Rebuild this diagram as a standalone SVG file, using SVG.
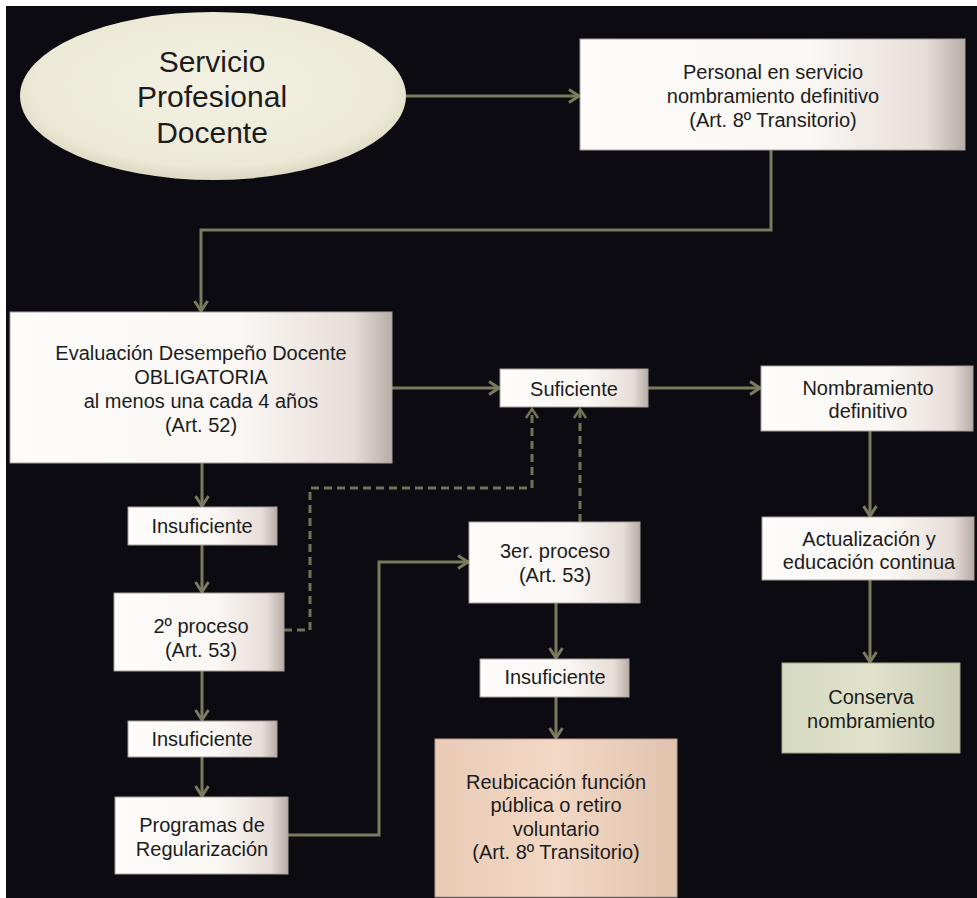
<svg xmlns="http://www.w3.org/2000/svg" width="977" height="898" viewBox="0 0 977 898">
<defs>
<linearGradient id="gW" x1="0" y1="0" x2="1" y2="0">
<stop offset="0" stop-color="#fdfcfb"/>
<stop offset="0.6" stop-color="#faf7f4"/>
<stop offset="0.9" stop-color="#e7ddd8"/>
<stop offset="1" stop-color="#b8ada7"/>
</linearGradient>
<linearGradient id="gP" x1="0" y1="0" x2="1" y2="0">
<stop offset="0" stop-color="#e9cbb6"/>
<stop offset="0.5" stop-color="#f2d8c5"/>
<stop offset="1" stop-color="#e1c3ae"/>
</linearGradient>
<linearGradient id="gG" x1="0" y1="0" x2="1" y2="0">
<stop offset="0" stop-color="#d6d9c1"/>
<stop offset="0.5" stop-color="#e0e2cc"/>
<stop offset="1" stop-color="#c8cbb2"/>
</linearGradient>
<radialGradient id="gE" cx="0.5" cy="0.45" r="0.55">
<stop offset="0" stop-color="#f3f1e3"/>
<stop offset="0.85" stop-color="#ece9d6"/>
<stop offset="1" stop-color="#dcd8c2"/>
</radialGradient>
<marker id="arr" markerUnits="userSpaceOnUse" markerWidth="16" markerHeight="16" refX="12" refY="8" orient="auto">
<path d="M2,1.5 L12,8 L2,14.5" fill="none" stroke="#7a7a5c" stroke-width="3"/>
</marker>
<marker id="arrD" markerUnits="userSpaceOnUse" markerWidth="16" markerHeight="16" refX="12" refY="8" orient="auto">
<path d="M3,2 L12,8 L3,14" fill="none" stroke="#6f7456" stroke-width="2.5"/>
</marker>
</defs>
<style>
.box{fill:url(#gW);stroke:#a9a09a;stroke-width:1}
.peach{fill:url(#gP);stroke:#b9a08e;stroke-width:1}
.green{fill:url(#gG);stroke:#a2a58c;stroke-width:1}
.t{font-family:"Liberation Sans",Arial,sans-serif;font-size:20px;fill:#1c1c1c;text-anchor:middle}
.tb{font-size:30px}
.c{fill:none;stroke:#7a7a5c;stroke-width:3;marker-end:url(#arr)}
.cn{fill:none;stroke:#7a7a5c;stroke-width:3}
.d{fill:none;stroke:#6f7456;stroke-width:3;stroke-dasharray:8 5;marker-end:url(#arrD)}
</style>
<rect x="0" y="0" width="977" height="898" fill="#ffffff"/>
<rect x="6" y="6" width="971" height="892" fill="#0b0b11"/>

<g id="connectors">
<path class="c" d="M406,96 H579"/>
<path class="c" d="M771,150 V230 H201 V311"/>
<path class="c" d="M392,388 H499"/>
<path class="c" d="M648,388 H760"/>
<path class="c" d="M870,431 V516"/>
<path class="c" d="M870,580 V662"/>
<path class="c" d="M202,463 V506"/>
<path class="c" d="M202,545 V592"/>
<path class="c" d="M202,671 V720"/>
<path class="c" d="M202,757 V796"/>
<path class="c" d="M288,835 H379 V562 H468"/>
<path class="c" d="M556,603 V658"/>
<path class="c" d="M556,697 V738"/>
<path class="d" d="M284,630 H310 V488 H532 V409"/>
<path class="d" d="M580,522 V409"/>
</g>

<g id="servicio">
<ellipse cx="213" cy="96" rx="193" ry="84" fill="url(#gE)"/>
<text class="t tb" x="212" y="72">Servicio</text>
<text class="t tb" x="212" y="107">Profesional</text>
<text class="t tb" x="212" y="143">Docente</text>
</g>

<g id="personal">
<rect class="box" x="580" y="39" width="385" height="111"/>
<text class="t" x="773" y="79">Personal en servicio</text>
<text class="t" x="773" y="103">nombramiento definitivo</text>
<text class="t" x="773" y="127">(Art. 8º Transitorio)</text>
</g>

<g id="evaluacion">
<rect class="box" x="10" y="312" width="382" height="151"/>
<text class="t" x="201" y="360">Evaluación Desempeño Docente</text>
<text class="t" x="201" y="384">OBLIGATORIA</text>
<text class="t" x="201" y="408">al menos una cada 4 años</text>
<text class="t" x="201" y="432">(Art. 52)</text>
</g>

<g id="suficiente">
<rect class="box" x="500" y="369" width="148" height="38"/>
<text class="t" x="574" y="396">Suficiente</text>
</g>

<g id="nombramiento">
<rect class="box" x="761" y="366" width="212" height="65"/>
<text class="t" x="868" y="395">Nombramiento</text>
<text class="t" x="868" y="418">definitivo</text>
</g>

<g id="actualizacion">
<rect class="box" x="762" y="517" width="212" height="63"/>
<text class="t" x="869" y="546">Actualización y</text>
<text class="t" x="869" y="569">educación continua</text>
</g>

<g id="conserva">
<rect class="green" x="782" y="663" width="178" height="90"/>
<text class="t" x="871" y="704">Conserva</text>
<text class="t" x="871" y="728">nombramiento</text>
</g>

<g id="insuficiente1">
<rect class="box" x="128" y="507" width="149" height="38"/>
<text class="t" x="202" y="533">Insuficiente</text>
</g>

<g id="proceso2">
<rect class="box" x="114" y="593" width="170" height="78"/>
<text class="t" x="201" y="633">2º proceso</text>
<text class="t" x="201" y="657">(Art. 53)</text>
</g>

<g id="insuficiente2">
<rect class="box" x="128" y="721" width="149" height="36"/>
<text class="t" x="202" y="746">Insuficiente</text>
</g>

<g id="programas">
<rect class="box" x="115" y="797" width="173" height="77"/>
<text class="t" x="202" y="832">Programas de</text>
<text class="t" x="202" y="856">Regularización</text>
</g>

<g id="proceso3">
<rect class="box" x="469" y="522" width="171" height="81"/>
<text class="t" x="555" y="558">3er. proceso</text>
<text class="t" x="555" y="582">(Art. 53)</text>
</g>

<g id="insuficiente3">
<rect class="box" x="480" y="659" width="149" height="38"/>
<text class="t" x="555" y="684">Insuficiente</text>
</g>

<g id="reubicacion">
<rect class="peach" x="435" y="739" width="242" height="158"/>
<text class="t" x="556" y="789">Reubicación función</text>
<text class="t" x="556" y="812">pública o retiro</text>
<text class="t" x="556" y="836">voluntario</text>
<text class="t" x="556" y="859">(Art. 8º Transitorio)</text>
</g>
</svg>
